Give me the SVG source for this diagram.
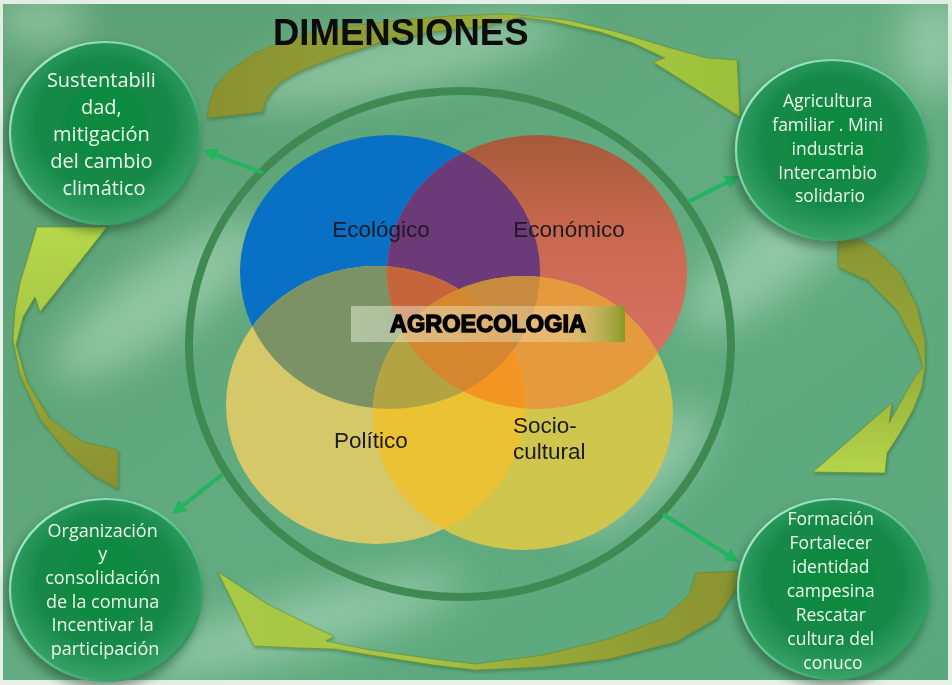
<svg xmlns="http://www.w3.org/2000/svg" width="952" height="685" viewBox="0 0 952 685">
<defs>
<style>
.node-text{font-family:"Open Sans","Noto Sans",sans-serif;fill:#ecf7e8;text-anchor:middle}
.venn-text{font-family:"Liberation Sans",Arial,sans-serif;font-size:22.5px;fill:#1c1a24}
.conn{stroke:#22b45e;stroke-width:4;fill:none;marker-end:url(#ah)}
.node-shape{fill:url(#nodeFill);stroke:url(#rim);stroke-width:2.2;filter:url(#shadow)}
.block{stroke:#6a8424;stroke-width:0.8;stroke-opacity:0.7;filter:url(#bshadow)}
</style>
<linearGradient id="bg" x1="0" y1="0" x2="1" y2="1">
<stop offset="0" stop-color="#5a9f72"/>
<stop offset="0.5" stop-color="#62ab80"/>
<stop offset="1" stop-color="#5aa97e"/>
</linearGradient>
<filter id="blur" x="-50%" y="-50%" width="200%" height="200%"><feGaussianBlur stdDeviation="20"/></filter>
<filter id="shadow" x="-30%" y="-30%" width="160%" height="160%"><feDropShadow dx="-3" dy="6" stdDeviation="5" flood-color="#0c3a1e" flood-opacity="0.5"/></filter>
<filter id="bshadow" x="-10%" y="-10%" width="120%" height="120%"><feDropShadow dx="1" dy="2" stdDeviation="1.5" flood-color="#1d4a20" flood-opacity="0.35"/></filter>
<radialGradient id="nodeFill" cx="50%" cy="45%" r="55%">
<stop offset="0" stop-color="#0a8a3a"/>
<stop offset="0.65" stop-color="#16894a"/>
<stop offset="1" stop-color="#3aa368"/>
</radialGradient>
<linearGradient id="rim" x1="0" y1="0" x2="1" y2="1">
<stop offset="0" stop-color="#b8f4d4"/>
<stop offset="0.5" stop-color="#5cc890"/>
<stop offset="1" stop-color="#1f7a48"/>
</linearGradient>
<linearGradient id="gA" x1="200" y1="0" x2="745" y2="0" gradientUnits="userSpaceOnUse">
<stop offset="0" stop-color="#8a9032"/>
<stop offset="0.45" stop-color="#93a636"/>
<stop offset="0.7" stop-color="#a8c842"/>
<stop offset="1" stop-color="#9cc03c"/>
</linearGradient>
<linearGradient id="gB" x1="0" y1="232" x2="0" y2="475" gradientUnits="userSpaceOnUse">
<stop offset="0" stop-color="#8a9434"/>
<stop offset="0.5" stop-color="#94a838"/>
<stop offset="1" stop-color="#b4d64a"/>
</linearGradient>
<linearGradient id="gC" x1="0" y1="225" x2="0" y2="490" gradientUnits="userSpaceOnUse">
<stop offset="0" stop-color="#b6d84a"/>
<stop offset="0.45" stop-color="#a4c444"/>
<stop offset="0.6" stop-color="#96a638"/>
<stop offset="1" stop-color="#8a8f30"/>
</linearGradient>
<linearGradient id="gD" x1="215" y1="0" x2="740" y2="0" gradientUnits="userSpaceOnUse">
<stop offset="0" stop-color="#a8ca44"/>
<stop offset="0.4" stop-color="#a6c444"/>
<stop offset="0.6" stop-color="#98aa38"/>
<stop offset="1" stop-color="#8a9230"/>
</linearGradient>
<linearGradient id="gRed" x1="0" y1="135" x2="0" y2="410" gradientUnits="userSpaceOnUse">
<stop offset="0" stop-color="#a65a3a"/>
<stop offset="0.35" stop-color="#c9684f"/>
<stop offset="1" stop-color="#de766c"/>
</linearGradient>
<linearGradient id="gBox" x1="0" y1="0" x2="1" y2="0">
<stop offset="0" stop-color="#e8f4dc" stop-opacity="0.5"/>
<stop offset="0.75" stop-color="#f4ecc8" stop-opacity="0.35"/>
<stop offset="1" stop-color="#7f9a22" stop-opacity="0.9"/>
</linearGradient>
<marker id="ah" viewBox="0 0 14 14" refX="6" refY="7" markerWidth="14" markerHeight="14" markerUnits="userSpaceOnUse" orient="auto">
<path d="M0,0 L14,7 L0,14 z" fill="#22b45e"/>
</marker>
<clipPath id="cB"><ellipse cx="390" cy="272" rx="150" ry="137"/></clipPath>
<clipPath id="cR"><ellipse cx="537" cy="272" rx="150" ry="137"/></clipPath>
<clipPath id="cL"><ellipse cx="376" cy="405" rx="150" ry="139"/></clipPath>
<clipPath id="cY"><ellipse cx="523" cy="413" rx="150" ry="137"/></clipPath>
</defs>

<!-- background -->
<rect x="0" y="0" width="952" height="685" fill="#e8f0ea"/>
<rect x="3" y="4" width="945" height="676" fill="url(#bg)"/>
<g filter="url(#blur)" fill="#c4e6cc" opacity="0.5">
<ellipse cx="160" cy="300" rx="130" ry="38" transform="rotate(-35 160 300)"/>
<ellipse cx="300" cy="625" rx="170" ry="28" transform="rotate(-15 300 625)"/>
<ellipse cx="400" cy="60" rx="170" ry="28" transform="rotate(-12 400 60)"/>
<ellipse cx="780" cy="250" rx="120" ry="36" transform="rotate(-40 780 250)"/>
<ellipse cx="935" cy="45" rx="35" ry="50"/>
<ellipse cx="40" cy="20" rx="50" ry="25"/>
<ellipse cx="640" cy="470" rx="90" ry="30" transform="rotate(-40 640 470)"/>
</g>

<!-- curved block arrows -->
<g id="cycle-arrows">
<polygon class="block" fill="url(#gA)" points="207,118 210,100 216,85 226,74 236,66 255,53 271,46 307,34 343,27 400,20 450,16 500,14 520,15 567,20 617,32 667,47 707,58 737,60 740,117 653,62 665,58 633,43 600,32 550,21 520,17 486,26 432,32 379,43 336,57 300,71 281,82 271,92 265,102 263,112"/>
<polygon class="block" fill="url(#gB)" points="838,235 850,234 877,250 900,273 917,307 925,340 925,367 922,387 913,410 900,433 887,453 885,473 813,472 892,403 889,423 903,398 915,377 923,367 917,347 897,310 867,280 838,267"/>
<polygon class="block" fill="url(#gC)" points="107,227 37,227 33,240 28,257 20,283 15,310 13,340 20,375 40,419 67,452 93,475 118,489 118,450 83,442 50,419 27,382 16,345 23,317 35,297 40,312"/>
<polygon class="block" fill="url(#gD)" points="218,572 254,646 300,648 335,649 370,655 433,665 476,670 543,667 609,659 676,642 716,619 736,589 739,571 696,573 689,595 663,619 609,639 543,655 476,664 433,659 370,650 326,641 334,636 318,629 267,604"/>
</g>

<!-- big ring -->
<ellipse cx="460" cy="344" rx="271" ry="253" fill="none" stroke="#3e8a52" stroke-width="8"/>

<!-- Venn -->
<g id="venn">
<ellipse cx="390" cy="272" rx="150" ry="137" fill="#0871c6"/>
<ellipse cx="537" cy="272" rx="150" ry="137" fill="url(#gRed)"/>
<ellipse cx="376" cy="405" rx="150" ry="139" fill="#d5c868"/>
<ellipse cx="523" cy="413" rx="150" ry="137" fill="#cfc64e"/>
<g clip-path="url(#cB)"><ellipse cx="537" cy="272" rx="150" ry="137" fill="#6c3a78"/></g>
<g clip-path="url(#cB)"><ellipse cx="376" cy="405" rx="150" ry="139" fill="#7b9266"/></g>
<g clip-path="url(#cB)"><ellipse cx="523" cy="413" rx="150" ry="137" fill="#a89c52"/></g>
<g clip-path="url(#cR)"><ellipse cx="376" cy="405" rx="150" ry="139" fill="#e0883a"/></g>
<g clip-path="url(#cR)"><ellipse cx="523" cy="413" rx="150" ry="137" fill="#e69a3e"/></g>
<g clip-path="url(#cL)"><ellipse cx="523" cy="413" rx="150" ry="137" fill="#ebc234"/></g>
<g clip-path="url(#cB)"><g clip-path="url(#cR)"><ellipse cx="376" cy="405" rx="150" ry="139" fill="#c6643c"/></g></g>
<g clip-path="url(#cB)"><g clip-path="url(#cR)"><ellipse cx="523" cy="413" rx="150" ry="137" fill="#c88a3e"/></g></g>
<g clip-path="url(#cB)"><g clip-path="url(#cL)"><ellipse cx="523" cy="413" rx="150" ry="137" fill="#b3a443"/></g></g>
<g clip-path="url(#cR)"><g clip-path="url(#cL)"><ellipse cx="523" cy="413" rx="150" ry="137" fill="#f39522"/></g></g>
<g clip-path="url(#cB)"><g clip-path="url(#cR)"><g clip-path="url(#cL)"><ellipse cx="523" cy="413" rx="150" ry="137" fill="#d4872e"/></g></g></g>
<text class="venn-text" x="381" y="237" text-anchor="middle">Ecológico</text>
<text class="venn-text" x="569" y="237" text-anchor="middle">Económico</text>
<text class="venn-text" x="371" y="448" text-anchor="middle">Político</text>
<text class="venn-text" x="513" y="433">Socio-</text>
<text class="venn-text" x="513" y="459">cultural</text>
</g>

<!-- center label -->
<g id="agroecologia">
<rect x="351" y="306" width="274" height="36" fill="url(#gBox)"/>
<text x="488" y="332" text-anchor="middle" font-family="'Liberation Sans',Arial,sans-serif" font-weight="bold" font-size="23.5" fill="#000" stroke="#000" stroke-width="1.4">AGROECOLOGIA</text>
</g>

<!-- title -->
<text x="273" y="45" font-family="'Liberation Sans',Arial,sans-serif" font-weight="bold" font-size="36.5" fill="#0c0c0c">DIMENSIONES</text>

<!-- connectors -->
<g id="connectors">
<line class="conn" x1="263" y1="173" x2="210.5" y2="152.9"/>
<line class="conn" x1="688" y1="202" x2="731.9" y2="179.6"/>
<line class="conn" x1="223" y1="474" x2="178.3" y2="509.1"/>
<line class="conn" x1="663" y1="514" x2="732.2" y2="557.7"/>
</g>

<!-- nodes -->
<g id="node-sustentabilidad">
<ellipse class="node-shape" cx="105" cy="133" rx="95" ry="91"/>
<text class="node-text" font-size="20">
<tspan x="104" y="87">Sustentabili</tspan>
<tspan x="104" y="114">dad,</tspan>
<tspan x="104" y="141">mitigación</tspan>
<tspan x="104" y="168">del cambio</tspan>
<tspan x="104" y="195">climático</tspan>
</text>
</g>

<g id="node-agricultura">
<ellipse class="node-shape" cx="832" cy="150" rx="96" ry="90"/>
<text class="node-text" font-size="17.5">
<tspan x="830" y="107">Agricultura</tspan>
<tspan x="830" y="131">familiar . Mini</tspan>
<tspan x="830" y="155">industria</tspan>
<tspan x="830" y="179">Intercambio</tspan>
<tspan x="830" y="202">solidario</tspan>
</text>
</g>

<g id="node-organizacion">
<ellipse class="node-shape" cx="106" cy="590" rx="96" ry="91"/>
<text class="node-text" font-size="18">
<tspan x="105" y="537">Organización</tspan>
<tspan x="105" y="560">y</tspan>
<tspan x="105" y="584">consolidación</tspan>
<tspan x="105" y="608">de la comuna</tspan>
<tspan x="105" y="631">Incentivar la</tspan>
<tspan x="105" y="655">participación</tspan>
</text>
</g>

<g id="node-formacion">
<ellipse class="node-shape" cx="834" cy="589" rx="96" ry="90"/>
<text class="node-text" font-size="17.5">
<tspan x="833" y="525">Formación</tspan>
<tspan x="833" y="549">Fortalecer</tspan>
<tspan x="833" y="573">identidad</tspan>
<tspan x="833" y="597">campesina</tspan>
<tspan x="833" y="621">Rescatar</tspan>
<tspan x="833" y="645">cultura del</tspan>
<tspan x="833" y="669">conuco</tspan>
</text>
</g>
</svg>
